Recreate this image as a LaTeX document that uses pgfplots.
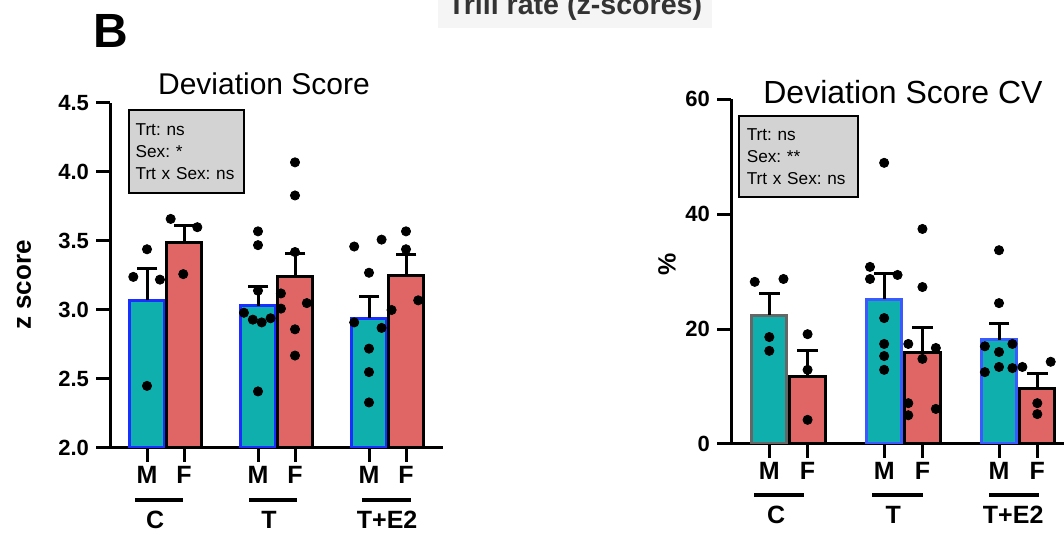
\documentclass[border=0pt]{standalone}
\usepackage{fontspec}
\setmainfont{Liberation Sans}
\usepackage{pgfplots}
\pgfplotsset{compat=1.18}
\frenchspacing
\definecolor{tealbar}{HTML}{0FAFAD}
\definecolor{salmon}{HTML}{E06666}
\definecolor{blueedge}{HTML}{1A2EFF}
\definecolor{blueedge2}{HTML}{3A5AFF}
\definecolor{grayedge}{HTML}{666666}
\definecolor{boxgray}{HTML}{D3D3D3}
\definecolor{titlegray}{HTML}{333333}
\pgfplotsset{
 panel/.style={
   scale only axis, anchor=south west,
   axis lines=left, axis line style={-, line width=1.5pt, black},
   xmin=-1, xmax=8,
   xtick={0,1,3,4,6,7}, xticklabels={M,F,M,F,M,F},
   tick align=outside, major tick length=7pt,
   tick style={line width=1.5pt, black},
   xticklabel style={font=\bfseries\fontsize{12.5}{14}\selectfont, inner sep=2pt},
   yticklabel style={font=\bfseries\fontsize{11}{13}\selectfont},
   /pgf/number format/assume math mode=true,
   clip mode=individual,
 },
 sbar/.style={ybar, bar width=0.92, bar shift=0pt, line width=1.5pt,
   error bars/y dir=plus, error bars/y explicit,
   error bars/error mark=none,
   error bars/error bar style={line width=1.5pt, black}},
 caps/.style={only marks, mark=-, mark size=5.2pt, black, mark options={line width=1.5pt, draw=black}},
 dots/.style={only marks, mark=*, mark size=2.3pt, black, mark options={draw=black, fill=black}},
}
\tikzset{
 grp/.style={line width=2pt, black},
 grplab/.style={anchor=base, font=\bfseries\fontsize{12.5}{14}\selectfont},
 stat/.style={draw=black, line width=1pt, fill=boxgray, anchor=north west,
   align=left, font=\fontsize{8.6}{11}\selectfont, inner xsep=3pt, inner ysep=0pt},
}
\begin{document}
\begin{tikzpicture}
\useasboundingbox (0,0) rectangle (532pt,267pt);
\clip (0,0) rectangle (532pt,267pt);

% ---------- left panel ----------
\begin{axis}[panel, at={(55pt,43pt)}, width=166.5pt, height=172.5pt,
  ymin=2, ymax=4.5, ytick={2,2.5,3,3.5,4,4.5},
  yticklabel style={/pgf/number format/.cd, fixed, fixed zerofill, precision=1}]
\addplot[sbar, fill=tealbar, draw=blueedge] coordinates {(0,3.07) +- (0,0.23) (3,3.03) +- (0,0.14) (6,2.94) +- (0,0.16)};
\addplot[sbar, fill=salmon, draw=black] coordinates {(1,3.49) +- (0,0.12) (4,3.24) +- (0,0.17) (7,3.25) +- (0,0.15)};
\addplot[caps] coordinates {(0,3.30) (3,3.17) (6,3.10) (1,3.61) (4,3.41) (7,3.40)};
\addplot[dots] coordinates {
 (0,3.44) (-0.37,3.24) (0.35,3.22) (0,2.45)
 (0.64,3.66) (1.36,3.60) (0.98,3.26)
 (3,3.57) (3,3.47) (3,3.14) (2.62,2.98) (2.86,2.93) (3.1,2.91) (3.34,2.94) (3,2.41)
 (4,4.07) (4,3.83) (4,3.42) (3.62,3.12) (3.62,3.01) (4.32,3.05) (4,2.86) (4,2.67)
 (5.6,3.46) (6.34,3.51) (6,3.27) (5.6,2.91) (6.34,2.87) (6,2.72) (6,2.55) (6,2.33)
 (7,3.57) (7,3.44) (6.61,3.00) (7.33,3.07)
};
\node[stat, minimum width=57.5pt, minimum height=41.5pt, text width=51pt] at (axis cs:-0.51,4.457) {Trt: ns\\Sex: *\\Trt x Sex: ns};
\draw[grp] ([yshift=-26pt]axis cs:-0.32,2) -- ([yshift=-26pt]axis cs:0.97,2);
\draw[grp] ([yshift=-26pt]axis cs:2.76,2) -- ([yshift=-26pt]axis cs:4.05,2);
\draw[grp] ([yshift=-26pt]axis cs:5.81,2) -- ([yshift=-26pt]axis cs:7.14,2);
\node[grplab] at ([yshift=-40.5pt]axis cs:0.22,2) {C};
\node[grplab] at ([yshift=-40.5pt]axis cs:3.3,2) {T};
\node[grplab] at ([yshift=-40.5pt]axis cs:6.49,2) {T+E2};
\end{axis}

% ---------- right panel ----------
\begin{axis}[panel, at={(365.5pt,45pt)}, width=172.3pt, height=172.5pt,
  ymin=0, ymax=60, ytick={0,20,40,60}]
\addplot[sbar, fill=tealbar, draw=grayedge] coordinates {(0,22.4) +- (0,3.7)};
\addplot[sbar, fill=tealbar, draw=blueedge2] coordinates {(3,25.2) +- (0,4.4) (6,18.1) +- (0,2.8)};
\addplot[sbar, fill=salmon, draw=black] coordinates {(1,11.7) +- (0,4.6) (4,16.0) +- (0,4.3) (7,9.7) +- (0,2.5)};
\addplot[caps] coordinates {(0,26.1) (3,29.6) (6,20.9) (1,16.3) (4,20.3) (7,12.2)};
\addplot[dots] coordinates {
 (-0.38,28.2) (0.37,28.7) (0,18.6) (0,16.2)
 (1,19.1) (1,12.9) (1,4.2)
 (2.63,30.8) (2.63,28.7) (3.35,29.4) (3,48.9) (3,21.9) (3,17.4) (3,15.3) (3,12.9)
 (4,37.4) (4,27.3) (3.63,17.4) (4.35,16.7) (4,14.8) (3.63,7.1) (3.63,5.0) (4.35,6.1)
 (6,33.7) (6,24.5) (5.63,17.0) (6,16.0) (6.35,17.4) (5.63,12.5) (6,13.4) (6.35,13.2)
 (6.61,13.4) (7.35,14.3) (7,7.1) (7,5.2)
};
\node[stat, minimum width=59.5pt, minimum height=40.5pt, text width=52pt] at (axis cs:-0.81,57.2) {Trt: ns\\Sex: **\\Trt x Sex: ns};
\draw[grp] ([yshift=-25.5pt]axis cs:-0.39,0) -- ([yshift=-25.5pt]axis cs:0.91,0);
\draw[grp] ([yshift=-25.5pt]axis cs:2.69,0) -- ([yshift=-25.5pt]axis cs:4.02,0);
\draw[grp] ([yshift=-25.5pt]axis cs:5.74,0) -- ([yshift=-25.5pt]axis cs:7.05,0);
\node[grplab] at ([yshift=-39.5pt]axis cs:0.18,0) {C};
\node[grplab] at ([yshift=-39.5pt]axis cs:3.24,0) {T};
\node[grplab] at ([yshift=-39.5pt]axis cs:6.37,0) {T+E2};
\end{axis}

% ---------- texts ----------
\node[anchor=base, font=\fontsize{15}{18}\selectfont] at (132pt,219.5pt) {Deviation Score};
\node[anchor=base, font=\fontsize{16}{19}\selectfont] at (451.5pt,215pt) {Deviation Score CV};
\node[anchor=base, font=\bfseries\fontsize{14.3}{17}\selectfont, text=titlegray, fill=black!4, inner xsep=5pt] at (287.5pt,259.5pt) {Trill rate (z-scores)};
\node[anchor=base west, font=\bfseries\fontsize{24}{28}\selectfont, inner sep=0pt] at (46.5pt,243pt) {B};
\node[rotate=90, font=\bfseries\fontsize{13}{15}\selectfont] at (12pt,124.5pt) {z score};
\node[rotate=90, font=\bfseries\fontsize{12.5}{15}\selectfont] at (333.5pt,135pt) {\%};
\end{tikzpicture}
\end{document}
